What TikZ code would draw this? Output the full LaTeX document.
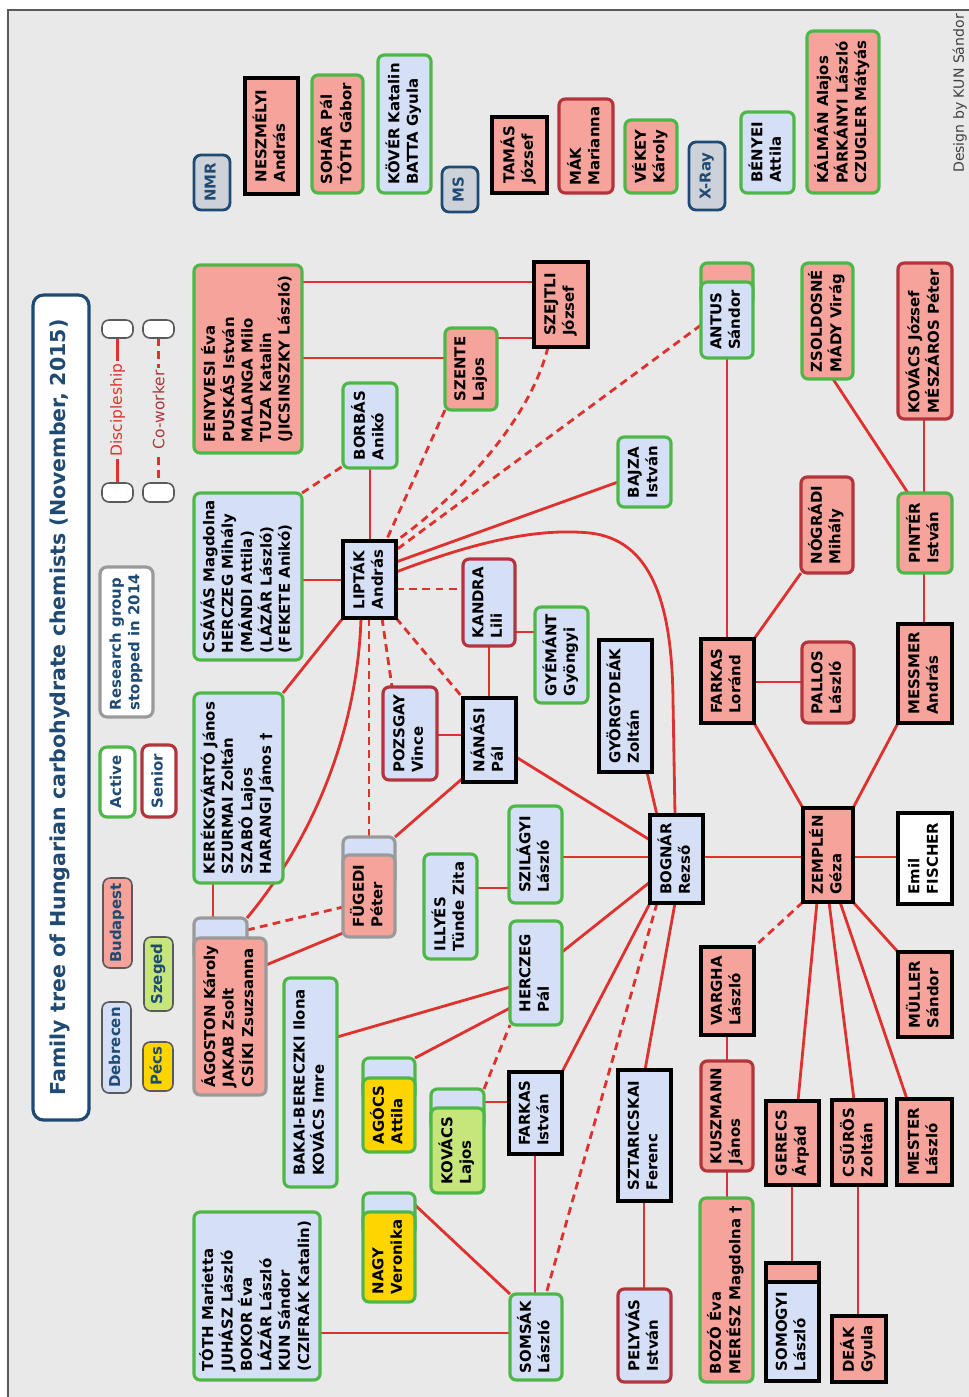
\documentclass[tikz,border=0pt]{standalone}
\usepackage{fontspec}
\setmainfont{DejaVu Sans}
\usepackage{graphicx}
\pgfdeclarelayer{bg}
\pgfdeclarelayer{edges}
\pgfsetlayers{bg,edges,main}
\definecolor{cbg}{HTML}{E9E9E9}
\definecolor{cblue}{HTML}{D5DFF6}
\definecolor{csal}{HTML}{F6A39C}
\definecolor{cyel}{HTML}{FFD500}
\definecolor{clgr}{HTML}{C6E67C}
\definecolor{cgrn}{HTML}{4DB847}
\definecolor{cred}{HTML}{B3343A}
\definecolor{cgry}{HTML}{9A9A9A}
\definecolor{cline}{HTML}{DF312D}
\definecolor{cnavy}{HTML}{1F4A73}
\definecolor{cfr}{HTML}{5A5A5A}
\definecolor{cinst}{HTML}{CDD1D8}
\newcommand\nf{\fontsize{8.5}{10.5}\selectfont\bfseries}
\newcommand\mknode[7]{\node[#2, minimum width={(#5-#3)*0.02cm}, minimum height={(#6-#4)*0.02cm}] (#1) at ({(#3+#5)/2},{(#4+#6)/2}) {\rotatebox{90}{\begin{tabular}{@{}l@{}}#7\end{tabular}}};}
\tikzset{
 bx/.style={inner sep=0pt, outer sep=0pt, line width=1.8pt, font=\nf, text=black},
 grn/.style={bx, draw=cgrn, rounded corners=3.5pt},
 sen/.style={bx, draw=cred, rounded corners=3.5pt},
 blk/.style={bx, draw=black},
 gry/.style={bx, draw=cgry, rounded corners=3.5pt},
 deb/.style={fill=cblue}, bud/.style={fill=csal}, pec/.style={fill=cyel}, sze/.style={fill=clgr}, wht/.style={fill=white},
 lnk/.style={draw=cline, line width=1.6pt},
 cow/.style={lnk, dash pattern=on 4.5pt off 3pt},
 inst/.style={bx, draw=cnavy, fill=cinst, text=cnavy, rounded corners=4pt, line width=1.6pt},
 leg/.style={bx, text=cnavy, rounded corners=4pt},
 thinleg/.style={leg, draw=cfr, line width=0.9pt},
}
\begin{document}
\begin{tikzpicture}[x=0.02cm,y=-0.02cm]
\useasboundingbox (0,0) rectangle (969,1397);
\begin{pgfonlayer}{bg}
\fill[cbg] (8,10) rectangle (990,1420);
\draw[cfr, line width=1.1pt] (8,10) rectangle (990,1420);
\end{pgfonlayer}

% title and legend
\mknode{title}{bx, draw=cnavy, fill=white, text=cnavy, rounded corners=6pt, line width=1.8pt, font=\fontsize{11.7}{14}\selectfont\bfseries}{33}{295}{89}{1120}{Family tree of Hungarian carbohydrate chemists (November, 2015)}
\mknode{ldeb}{thinleg, fill=cblue}{102}{1002}{131}{1093}{Debrecen}
\mknode{lpec}{thinleg, fill=cyel}{143}{1042}{173}{1091}{Pécs}
\mknode{lbud}{thinleg, fill=csal}{103}{878}{132}{968}{Budapest}
\mknode{lsze}{thinleg, fill=clgr}{144}{937}{173}{1011}{Szeged}
\mknode{lact}{leg, draw=cgrn, fill=white}{100}{747}{135}{817}{Active}
\mknode{lsen}{leg, draw=cred, fill=white}{142}{745}{176}{817}{Senior}
\mknode{lstop}{leg, draw=cgry, fill=white}{100}{567}{153}{717}{Research group\\stopped in 2014}
\mknode{d1}{thinleg, fill=white}{102}{320}{133}{338}{}
\mknode{d2}{thinleg, fill=white}{102}{483}{133}{502}{}
\mknode{c1}{thinleg, fill=white}{143}{320}{174}{338}{}
\mknode{c2}{thinleg, fill=white}{143}{483}{174}{502}{}
\node[rotate=90, fill=cbg, inner sep=1.5pt, text=cline, font=\fontsize{8.8}{10}\selectfont] (dtxt) at (117.5,410) {Discipleship};
\node[rotate=90, fill=cbg, inner sep=1.5pt, text=cred, font=\fontsize{8.8}{10}\selectfont] (ctxt) at (158.5,410) {Co-worker};
\node[rotate=90, anchor=south east, inner sep=0.5pt, font=\fontsize{8}{10}\selectfont, text=black!75] (design) at (968,13) {Design by KUN Sándor};

% instruments
\mknode{nmr}{inst}{194}{155}{230}{210}{NMR}
\mknode{ms}{inst}{442}{167}{478}{212}{MS}
\mknode{xray}{inst}{689}{142}{725}{210}{X-Ray}
\mknode{neszmelyi}{blk,bud}{245}{78}{298}{194}{NESZMÉLYI\\András}
\mknode{sohar}{grn,bud}{312}{75}{363}{193}{SOHÁR Pál\\TÓTH Gábor}
\mknode{kover}{grn,deb}{378}{55}{431}{193}{KÖVÉR Katalin\\BATTA Gyula}
\mknode{tamas}{blk,bud}{492}{117}{547}{193}{TAMÁS\\József}
\mknode{mak}{sen,bud}{559}{99}{613}{193}{MÁK\\Marianna}
\mknode{vekey}{grn,bud}{625}{120}{677}{193}{VÉKEY\\Károly}
\mknode{benyei}{grn,deb}{741}{112}{794}{193}{BÉNYEI\\Attila}
\mknode{kalman}{grn,bud}{807}{31}{879}{193}{KÁLMÁN Alajos\\PÁRKÁNYI László\\CZUGLER Mátyás}

% people
\mknode{fenyvesi}{grn,bud}{194}{265}{302}{453}{FENYVESI Éva\\PUSKÁS István\\MALANGA Milo\\TUZA Katalin\\(JICSINSZKY László)}
\mknode{szejtli}{blk,bud}{534}{262}{588}{347}{SZEJTLI\\József}
\mknode{szente}{grn,bud}{445}{328}{497}{410}{SZENTE\\Lajos}
\mknode{borbas}{grn,deb}{343}{383}{397}{468}{BORBÁS\\Anikó}
\mknode{csavas}{grn,deb}{194}{493}{302}{660}{CSÁVÁS Magdolna\\HERCZEG Mihály\\(MÁNDI Attila)\\(LÁZÁR László)\\(FEKETE Anikó)}
\mknode{liptak}{blk,deb}{343}{541}{396}{618}{LIPTÁK\\András}
\mknode{bajza}{grn,deb}{618}{437}{671}{507}{BAJZA\\István}
\mknode{antusb}{grn,bud}{701}{263}{753}{305}{}
\mknode{antus}{grn,deb}{701}{282}{753}{358}{ANTUS\\Sándor}
\mknode{zsold}{grn,bud}{802}{263}{853}{379}{ZSOLDOSNÉ\\MÁDY Virág}
\mknode{kovacsj}{sen,bud}{898}{263}{952}{419}{KOVÁCS József\\MÉSZÁROS Péter}
\mknode{nogradi}{sen,bud}{801}{477}{853}{573}{NÓGRÁDI\\Mihály}
\mknode{pinter}{grn,bud}{898}{493}{952}{573}{PINTÉR\\István}
\mknode{kandra}{sen,deb}{463}{559}{515}{646}{KANDRA\\Lili}
\mknode{gyemant}{grn,deb}{535}{607}{588}{703}{GYÉMÁNT\\Gyöngyi}
\mknode{gyorgy}{blk,deb}{599}{640}{652}{772}{GYÖRGYDEÁK\\Zoltán}
\mknode{farkasl}{blk,bud}{701}{639}{754}{723}{FARKAS\\Loránd}
\mknode{pallos}{sen,bud}{802}{642}{854}{723}{PALLOS\\László}
\mknode{messmer}{blk,bud}{898}{624}{952}{723}{MESSMER\\András}
\mknode{kerek}{grn,deb}{194}{693}{283}{883}{KERÉKGYÁRTÓ János\\SZURMAI Zoltán\\SZABÓ Lajos\\HARANGI János †}
\mknode{pozsgay}{sen,deb}{383}{687}{437}{780}{POZSGAY\\Vince}
\mknode{nanasi}{blk,deb}{463}{698}{516}{782}{NÁNÁSI\\Pál}
\mknode{fugedib}{gry,deb}{343}{837}{395}{885}{}
\mknode{fugedi}{gry,bud}{343}{855}{395}{937}{FÜGEDI\\Péter}
\mknode{illyes}{grn,deb}{424}{854}{477}{959}{ILLYÉS\\Tünde Zita}
\mknode{szilagyi}{grn,deb}{509}{806}{562}{903}{SZILÁGYI\\László}
\mknode{bognar}{blk,deb}{650}{815}{703}{903}{BOGNÁR\\Rezső}
\mknode{zemplen}{blk,bud}{803}{808}{853}{902}{ZEMPLÉN\\Géza}
\mknode{fischer}{blk,wht}{898}{813}{952}{904}{Emil\\FISCHER}
\mknode{agostonb}{gry,deb}{194}{918}{247}{960}{}
\mknode{agoston}{gry,bud}{194}{938}{266}{1095}{ÁGOSTON Károly\\JAKAB Zsolt\\CSÍKI Zsuzsanna}
\mknode{herczeg}{grn,deb}{510}{921}{562}{1025}{HERCZEG\\Pál}
\mknode{vargha}{blk,bud}{701}{947}{754}{1035}{VARGHA\\László}
\mknode{muller}{blk,bud}{898}{952}{952}{1037}{MÜLLER\\Sándor}
\mknode{bakai}{grn,deb}{284}{978}{337}{1187}{BAKAI-BERECZKI Ilona\\KOVÁCS Imre}
\mknode{agocsb}{grn,deb}{363}{1058}{415}{1100}{}
\mknode{agocs}{grn,pec}{363}{1078}{415}{1152}{AGÓCS\\Attila}
\mknode{kovacslb}{grn,deb}{431}{1089}{484}{1130}{}
\mknode{kovacsl}{grn,sze}{431}{1108}{484}{1193}{KOVÁCS\\Lajos}
\mknode{farkasi}{blk,deb}{509}{1072}{562}{1154}{FARKAS\\István}
\mknode{sztar}{blk,deb}{618}{1070}{671}{1201}{SZTARICSKAI\\Ferenc}
\mknode{kuszmann}{sen,bud}{701}{1061}{753}{1171}{KUSZMANN\\János}
\mknode{gerecs}{blk,bud}{766}{1101}{819}{1185}{GERECS\\Árpád}
\mknode{csuros}{blk,bud}{832}{1100}{886}{1185}{CSŰRÖS\\Zoltán}
\mknode{mester}{blk,bud}{897}{1099}{952}{1185}{MESTER\\László}
\mknode{toth}{grn,deb}{194}{1212}{320}{1380}{TÓTH Marietta\\JUHÁSZ László\\BOKOR Éva\\LÁZÁR László\\KUN Sándor\\(CZIFRÁK Katalin)}
\mknode{nagyb}{grn,deb}{363}{1193}{415}{1235}{}
\mknode{nagy}{grn,pec}{363}{1212}{415}{1302}{NAGY\\Veronika}
\mknode{somsak}{grn,deb}{510}{1294}{562}{1380}{SOMSÁK\\László}
\mknode{pelyvas}{sen,deb}{618}{1289}{671}{1382}{PELYVÁS\\István}
\mknode{bozo}{grn,bud}{700}{1198}{753}{1382}{BOZÓ Éva\\MERÉSZ Magdolna †}
\mknode{somogyib}{blk,bud}{766}{1263}{819}{1300}{}
\mknode{somogyi}{blk,deb}{766}{1282}{819}{1381}{SOMOGYI\\László}
\mknode{deak}{blk,bud}{832}{1316}{886}{1382}{DEÁK\\Gyula}

\begin{pgfonlayer}{edges}
% legend lines
\draw[lnk] (d1.south) -- (d2.north);
\draw[cow] (c1.south) -- (c2.north);
% top cluster
\draw[lnk] (fenyvesi.east |- 0,282) -- (szejtli.west |- 0,282);
\draw[lnk] (fenyvesi.east |- 0,358) -- (szente.west |- 0,358);
\draw[lnk] (szente.east |- 0,338) -- (szejtli.west |- 0,338);
\draw[cow] (szejtli.south -| 548,0) .. controls (530,420) and (460,495) .. (liptak.north east);
\draw[cow] (szente.south west) -- (liptak.north -| 386,0);
\draw[cow] (antus.west |- 0,325) -- (liptak.east |- 0,550);
\draw[lnk] (bajza.west |- 0,482) -- (liptak.east |- 0,562);
\draw[lnk] (liptak.east |- 0,572) .. controls (480,540) and (540,528) .. (590,533) .. controls (650,540) and (672,600) .. (673,700) -- (bognar.north -| 675,0);
\draw[lnk] (borbas.south -| 370,0) -- (liptak.north -| 370,0);
\draw[cow] (csavas.north east) -- (borbas.west |- 0,466);
\draw[lnk] (csavas.east |- 0,580) -- (liptak.west |- 0,580);
\draw[cow] (liptak.east |- 0,589) -- (kandra.west |- 0,589);
\draw[lnk] (kandra.east |- 0,632) -- (gyemant.west |- 0,632);
\draw[lnk] (kandra.south -| 489,0) -- (nanasi.north -| 489,0);
\draw[cow] (liptak.south east) -- (nanasi.north west);
\draw[cow] (liptak.south -| 382,0) -- (pozsgay.north -| 392,0);
\draw[lnk] (pozsgay.east |- 0,735) -- (nanasi.west |- 0,735);
\draw[cow] (liptak.south -| 369,0) -- (fugedib.north -| 369,0);
\draw[lnk] (nanasi.west |- 0,778) -- (fugedib.north east);
\draw[lnk] (liptak.south west) -- (kerek.north east);
\draw[lnk] (liptak.south -| 361,0) .. controls (358,720) and (320,830) .. (agostonb.north east);
\draw[lnk] (kerek.south -| 213,0) -- (agostonb.north -| 213,0);
\draw[cow] (agostonb.east |- 0,930) -- (fugedi.west |- 0,907);
\draw[lnk] (agoston.east |- 0,965) -- (fugedi.west |- 0,933);
% Bognar cluster
\draw[lnk] (nanasi.east |- 0,757) -- (bognar.west |- 0,840);
\draw[lnk] (gyorgy.south -| 647,0) -- (bognar.north -| 657,0);
\draw[lnk] (szilagyi.east |- 0,857) -- (bognar.west |- 0,857);
\draw[lnk] (illyes.east |- 0,888) -- (szilagyi.west |- 0,888);
\draw[lnk] (herczeg.east |- 0,952) -- (bognar.west |- 0,882);
\draw[lnk] (bognar.south west) -- (farkasi.north east);
\draw[cow] (bognar.south -| 657,0) -- (somsak.north -| 546,0);
\draw[lnk] (bognar.south -| 675,0) -- (sztar.north -| 645,0);
\draw[lnk] (sztar.south -| 644,0) -- (pelyvas.north -| 644,0);
\draw[lnk] (bognar.east |- 0,857) -- (zemplen.west |- 0,857);
% Zemplen cluster
\draw[lnk] (zemplen.east |- 0,857) -- (fischer.west |- 0,857);
\draw[lnk] (farkasl.south east) -- (zemplen.north west);
\draw[lnk] (farkasl.east |- 0,682) -- (pallos.west |- 0,682);
\draw[lnk] (farkasl.north east) -- (nogradi.south west);
\draw[lnk] (antus.south -| 727,0) -- (farkasl.north -| 727,0);
\draw[lnk] (zsold.south -| 833,0) -- (pinter.north -| 908,0);
\draw[lnk] (kovacsj.south -| 924,0) -- (pinter.north -| 924,0);
\draw[lnk] (pinter.south -| 924,0) -- (messmer.north -| 924,0);
\draw[lnk] (messmer.south west) -- (zemplen.north east);
\draw[cow] (zemplen.south west) -- (vargha.north east);
\draw[lnk] (vargha.south -| 727,0) -- (kuszmann.north -| 727,0);
\draw[lnk] (kuszmann.south -| 727,0) -- (bozo.north -| 727,0);
\draw[lnk] (zemplen.south east) -- (muller.north west);
\draw[lnk] (zemplen.south -| 817,0) -- (gerecs.north -| 798,0);
\draw[lnk] (zemplen.south -| 829,0) -- (csuros.north -| 854,0);
\draw[lnk] (zemplen.south -| 840,0) -- (mester.north -| 907,0);
\draw[lnk] (gerecs.south -| 792,0) -- (somogyib.north -| 792,0);
\draw[lnk] (csuros.south -| 858,0) -- (deak.north -| 858,0);
% Herczeg / Somsak cluster
\draw[lnk] (bakai.east |- 0,1037) -- (herczeg.west |- 0,987);
\draw[lnk] (agocsb.north east) -- (herczeg.west |- 0,1008);
\draw[cow] (kovacslb.north east) -- (herczeg.south west);
\draw[lnk] (kovacslb.east |- 0,1102) -- (farkasi.west |- 0,1102);
\draw[lnk] (farkasi.south -| 535,0) -- (somsak.north -| 535,0);
\draw[lnk] (nagyb.east |- 0,1205) -- (somsak.north west);
\draw[lnk] (toth.east |- 0,1333) -- (somsak.west |- 0,1333);
\end{pgfonlayer}
\end{tikzpicture}
\end{document}
